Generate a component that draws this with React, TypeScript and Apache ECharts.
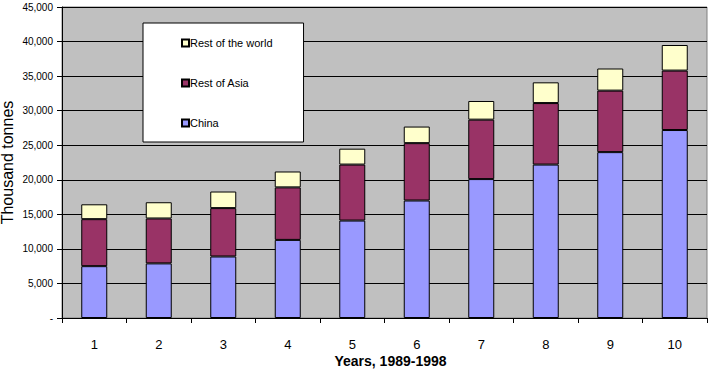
import React, { useEffect, useRef } from "react";
import * as echarts from "echarts";

const categories = ["1", "2", "3", "4", "5", "6", "7", "8", "9", "10"];
const china = [7500, 7900, 8900, 11300, 14100, 17000, 20100, 22200, 24000, 27200];
const restOfAsia = [6800, 6500, 7000, 7600, 8100, 8300, 8600, 8900, 8900, 8600];
const restOfWorld = [2150, 2350, 2400, 2300, 2300, 2400, 2700, 3000, 3200, 3700];
const legendOrder = ["Rest of the world", "Rest of Asia", "China"];

export default function App() {
  const ref = useRef<HTMLDivElement>(null);
  useEffect(() => {
    if (!ref.current) return;
    const chart = echarts.init(ref.current, null, { renderer: "svg" });
    const font = "Liberation Sans, Arial, sans-serif";
    const bar = (name: string, data: number[], color: string) => ({
      name,
      type: "bar",
      stack: "total",
      data,
      barWidth: 26,
      itemStyle: { color, borderColor: "#000", borderWidth: 1 },
    });
    chart.setOption({
      animation: false,
      backgroundColor: "#fff",
      grid: {
        left: 62,
        right: 5,
        top: 7,
        bottom: 51,
        outerBoundsMode: "none",
        containLabel: false,
        show: true,
        backgroundColor: "#C0C0C0",
        borderColor: "#808080",
        borderWidth: 1,
      },
      legend: {
        data: legendOrder,
        orient: "vertical",
        left: 143,
        top: 23,
        padding: [14, 31, 13, 38],
        itemGap: 28,
        itemWidth: 7,
        itemHeight: 7,
        backgroundColor: "#fff",
        borderColor: "#000",
        borderWidth: 1,
        borderRadius: 0,
        icon: "rect",
        textStyle: { fontFamily: font, fontSize: 11, color: "#000", lineHeight: 12, padding: [0, 0, 0, -4] },
      },
      xAxis: {
        type: "category",
        data: categories,
        boundaryGap: true,
        name: "Years, 1989-1998",
        nameLocation: "middle",
        nameGap: 36,
        nameMoveOverlap: false,
        nameTextStyle: {
          fontFamily: font,
          fontSize: 14,
          fontWeight: "bold",
          color: "#000",
          verticalAlign: "top",
          lineHeight: 14,
          padding: [0, 0, 0, 12],
        },
        axisLine: { lineStyle: { color: "#000", width: 1 } },
        axisTick: { show: true, length: 5, alignWithLabel: false, lineStyle: { color: "#000" } },
        axisLabel: { fontFamily: font, fontSize: 13, color: "#000", margin: 20, lineHeight: 13 },
        splitLine: { show: false },
      },
      yAxis: {
        type: "value",
        min: 0,
        max: 45000,
        interval: 5000,
        name: "Thousand tonnes",
        nameLocation: "middle",
        nameGap: 47,
        nameMoveOverlap: false,
        nameTextStyle: { fontFamily: font, fontSize: 16, color: "#000" },
        axisLine: { show: true, lineStyle: { color: "#000", width: 1 } },
        axisTick: { show: true, length: 5, inside: false, lineStyle: { color: "#000" } },
        axisLabel: {
          fontFamily: font,
          fontSize: 10,
          color: "#000",
          margin: 9,
          formatter: (v: number) => (v === 0 ? "-" : v.toLocaleString("en-US")),
        },
        splitLine: { show: true, lineStyle: { color: "#000", width: 1 } },
      },
      series: [
        bar("China", china, "#9999FF"),
        bar("Rest of Asia", restOfAsia, "#993366"),
        bar("Rest of the world", restOfWorld, "#FFFFCC"),
      ],
    });
    return () => chart.dispose();
  }, []);
  return <div ref={ref} style={{ width: 712, height: 369, position: "absolute", left: 0, top: 0 }} />;
}
